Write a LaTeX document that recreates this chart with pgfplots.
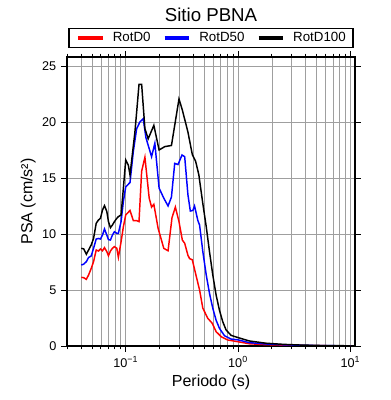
\documentclass[border=0pt]{standalone}
\usepackage{fontspec}
\setmainfont{Liberation Sans}
\usepackage{pgfplots}
\pgfplotsset{compat=1.18}
\begin{document}
\begin{tikzpicture}
\useasboundingbox (0,0) rectangle (292.5pt,300pt);
\begin{axis}[
  at={(50.25pt,40.5pt)}, anchor=south west,
  scale only axis, width=216pt, height=216.75pt,
  xmode=log, xmin=0.03, xmax=11, ymin=0, ymax=25.8,
  xtick={0.1,1,10},
  xticklabels={10\textsuperscript{−1},10\textsuperscript{0},10\textsuperscript{1}},
  minor xtick={0.03,0.04,0.05,0.06,0.07,0.08,0.09,0.2,0.3,0.4,0.5,0.6,0.7,0.8,0.9,2,3,4,5,6,7,8,9},
  ytick={0,5,10,15,20,25},
  /pgf/number format/assume math mode=true,
  tick align=outside,
  major tick length=4.5pt, minor tick length=2.5pt,
  tick style={black, line width=0.6pt},
  xmajorgrids, xminorgrids, ymajorgrids,
  major grid style={gray!75, line width=0.45pt},
  minor grid style={gray!75, line width=0.45pt},
  axis line style={line width=1.4pt},
  ticklabel style={font=\fontsize{9.5}{11}\selectfont},
  xlabel={Periodo (s)},
  ylabel={PSA (cm/s²)},
  label style={font=\fontsize{12}{14}\selectfont},
  xlabel style={at={(axis description cs:0.5,-0.1407)}, anchor=base},
  ylabel style={at={(axis description cs:-0.1204,0.5)}, anchor=base},
  title={Sitio PBNA},
  title style={at={(axis description cs:0.5,1.0955)}, anchor=base, font=\fontsize{14}{16}\selectfont},
  legend columns=3,
  legend style={at={(axis description cs:0.5,1.03)}, anchor=south, draw=black, line width=1pt,
    font=\fontsize{10}{12}\selectfont, inner xsep=5.5pt, inner ysep=2.5pt,
    nodes={inner sep=0pt, text height=7.5pt, text depth=2pt},
    /tikz/every odd column/.append style={column sep=6pt},
    /tikz/every even column/.append style={column sep=9pt}},
  legend image code/.code={\draw[#1, line width=3pt] (0pt,0pt) -- (18.5pt,0pt);},
  every axis plot/.append style={line width=1.1pt},
]
\addplot[red] coordinates {
(0.0402,6.13) (0.0422,6.1) (0.0446,5.95) (0.0467,6.34) (0.0493,6.93) (0.0517,7.53) (0.0546,8.57) (0.0572,8.48) (0.0596,8.66) (0.0621,8.5) (0.0647,8.78) (0.0679,8.42) (0.0702,8.06) (0.0731,8.48) (0.0761,8.72) (0.0793,8.87) (0.0833,8.72) (0.086,7.92) (0.0909,9.3) (0.0953,10.65) (0.1,11.7) (0.1092,12.1) (0.1168,11.2) (0.1251,11.2) (0.1313,11.1) (0.1386,15.6) (0.1482,16.85) (0.1618,13.2) (0.1699,12.4) (0.178,12.65) (0.1943,10.5) (0.2182,8.72) (0.2382,8.5) (0.2583,11.46) (0.2768,12.4) (0.298,11.1) (0.3192,9.46) (0.335,9.17) (0.358,8.1) (0.3707,7.8) (0.3915,7.7) (0.425,6.2) (0.4545,5.0) (0.486,3.37) (0.538,2.47) (0.589,2.03) (0.638,1.28) (0.708,0.83) (0.809,0.54) (1.0,0.38) (1.259,0.2) (1.77,0.12) (2.5,0.08) (3.5,0.05) (5,0.03) (7,0.02) (10,0.01)
};
\addlegendentry{RotD0}
\addplot[blue] coordinates {
(0.0402,7.23) (0.0422,7.3) (0.0446,7.53) (0.0467,7.9) (0.0493,8.04) (0.0517,8.72) (0.0546,9.55) (0.0572,9.6) (0.0596,9.55) (0.0621,9.9) (0.0647,10.45) (0.0679,9.9) (0.0702,9.5) (0.0731,9.46) (0.0761,9.9) (0.0793,10.2) (0.0833,10.06) (0.086,10.06) (0.0909,11.1) (0.0953,12.9) (0.1,14.2) (0.1092,14.6) (0.1168,17.35) (0.1251,19.4) (0.1338,20.0) (0.1431,20.3) (0.1513,18.6) (0.1699,16.9) (0.1817,18.1) (0.1982,14.1) (0.2182,13.2) (0.2382,12.5) (0.2553,13.3) (0.273,16.3) (0.2922,16.2) (0.317,17.05) (0.335,16.9) (0.358,13.5) (0.376,12.05) (0.396,12.1) (0.41,12.5) (0.4388,11.2) (0.4545,10.8) (0.486,8.42) (0.521,6.34) (0.557,4.7) (0.596,3.37) (0.638,2.3) (0.683,1.58) (0.757,0.92) (0.867,0.62) (1.0,0.55) (1.259,0.3) (1.77,0.18) (2.5,0.11) (3.5,0.07) (5,0.04) (7,0.025) (10,0.015)
};
\addlegendentry{RotD50}
\addplot[black] coordinates {
(0.0402,8.72) (0.0422,8.67) (0.0446,8.19) (0.0467,8.57) (0.0493,9.02) (0.0517,9.6) (0.0546,10.95) (0.0572,11.25) (0.0596,11.4) (0.0621,12.14) (0.0647,12.53) (0.0679,12.0) (0.0702,11.1) (0.0731,10.56) (0.0761,10.8) (0.0793,11.1) (0.0833,11.4) (0.086,11.55) (0.0909,11.7) (0.0953,14.08) (0.1,16.6) (0.1054,16.16) (0.1092,15.27) (0.1144,17.05) (0.1208,19.13) (0.1259,21.2) (0.1313,23.36) (0.1386,23.36) (0.1482,19.4) (0.1585,18.5) (0.178,19.7) (0.1982,17.5) (0.2228,17.8) (0.2553,17.9) (0.298,22.05) (0.3192,21.07) (0.358,19.1) (0.3915,17.1) (0.419,16.5) (0.448,15.27) (0.4545,14.8) (0.486,12.7) (0.521,10.65) (0.557,8.42) (0.596,6.34) (0.638,4.55) (0.683,3.2) (0.731,2.17) (0.783,1.43) (0.867,0.95) (1.0,0.75) (1.259,0.45) (1.77,0.25) (2.5,0.15) (3.5,0.09) (5,0.05) (7,0.03) (10,0.02)
};
\addlegendentry{RotD100}
\end{axis}
\end{tikzpicture}
\end{document}
